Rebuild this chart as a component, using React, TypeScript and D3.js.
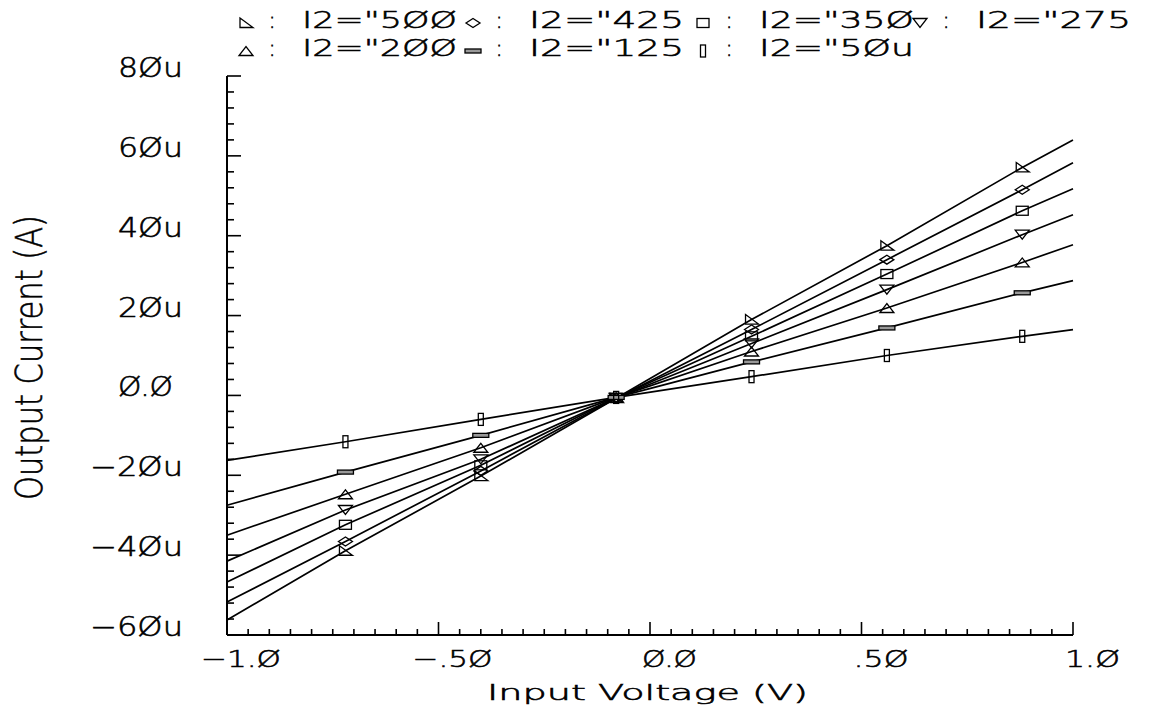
import React from 'react';
import * as d3 from 'd3';

// ---------- data ----------
const vIn = [-1.0, -0.72, -0.4, -0.08, 0.24, 0.56, 0.88, 1.0];
const i500 = [-56.25, -38.9, -20.2, -0.7, 19.0, 37.5, 57.1, 64.0];
const i425 = [-51.75, -36.6, -18.9, -0.7, 16.5, 34.0, 51.5, 58.25];
const i350 = [-46.75, -32.4, -17.5, -0.6, 14.8, 30.4, 46.25, 51.75];
const i275 = [-41.5, -28.7, -16.0, -0.6, 13.0, 26.5, 40.25, 45.25];
const i200 = [-35.0, -24.75, -13.1, -0.5, 11.0, 21.9, 33.3, 37.75];
const i125 = [-27.5, -19.2, -10.0, -0.5, 8.4, 16.9, 25.7, 28.75];
const i50 = [-16.25, -11.6, -6.0, -0.5, 4.7, 10.0, 14.8, 16.5];
const seriesValues = [i500, i425, i350, i275, i200, i125, i50];
const seriesSymbols = ['rtri', 'diamond', 'square', 'dtri', 'utri', 'hbar', 'vbar'];
const legendLabels = ['I2="5ØØ', 'I2="425', 'I2="35Ø', 'I2="275', 'I2="2ØØ', 'I2="125', 'I2="5Øu'];

const yTickValues = [-60, -40, -20, 0, 20, 40, 60, 80];
const yTickLabels = ['−6Øu', '−4Øu', '−2Øu', 'Ø.Ø', '2Øu', '4Øu', '6Øu', '8Øu'];
const xTickValues = [-1, -0.5, 0, 0.5, 1];
const xTickLabels = ['−1.Ø', '−.5Ø', 'Ø.Ø', '.5Ø', '1.Ø'];

const xTitle = 'Input Voltage (V)';
const yTitle = 'Output Current (A)';

// ---------- layout ----------
const W = 1158;
const H = 711;
const x = d3.scaleLinear().domain([-1, 1]).range([227, 1073]);
const y = d3.scaleLinear().domain([-60, 80]).range([635, 76]);

const SANS = "'DejaVu Sans', sans-serif";
const textStyle = {
  fontFamily: SANS,
  fontWeight: 200,
  fill: '#000',
  stroke: '#000',
  strokeWidth: 0.55,
} as any;

function Marker({ kind, cx, cy }: { kind: string; cx: number; cy: number }) {
  const common = { stroke: '#000', strokeWidth: 1.3, fill: 'none' } as any;
  const t = `translate(${cx},${cy})`;
  switch (kind) {
    case 'rtri':
      return <path transform={t} d="M-6,-5 L-6,4.5 L7,4.5 Z" {...common} />;
    case 'diamond':
      return <path transform={t} d="M-7,0 L0,-4.5 L7,0 L0,4.5 Z" {...common} />;
    case 'square':
      return <rect transform={t} x={-6} y={-4.5} width={12} height={9} {...common} />;
    case 'dtri':
      return <path transform={t} d="M-7,-4.5 L7,-4.5 L0,4.5 Z" {...common} />;
    case 'utri':
      return <path transform={t} d="M-7,4.5 L7,4.5 L0,-4.5 Z" {...common} />;
    case 'hbar':
      return <rect transform={t} x={-8} y={-2} width={16} height={4} {...common} fill="#999" />;
    case 'vbar':
      return <rect transform={t} x={-2.5} y={-6} width={5} height={12} {...common} />;
    default:
      return null;
  }
}

export default function App() {
  const line = d3
    .line<number>()
    .x((_, i) => x(vIn[i]))
    .y((d) => y(d));

  const xMinor = d3.range(-1, 1.0001, 0.05);
  const yMinor = d3.range(-60, 80.001, 4);

  const legendCols = [246, 473, 703, 920];
  const legendRows = [23, 51];
  const legendBase = [28, 56];

  return (
    <svg
      width={W}
      height={H}
      style={{ position: 'absolute', left: 0, top: 0, background: '#fff' }}
    >
      <rect x={0} y={0} width={W} height={H} fill="#fff" />

      {/* axes */}
      <line x1={x(-1)} x2={x(-1)} y1={y(80)} y2={y(-60)} stroke="#000" strokeWidth={2} />
      <line x1={x(-1)} x2={x(1)} y1={y(-60)} y2={y(-60)} stroke="#000" strokeWidth={2} />

      {xMinor.map((v, i) => {
        const major = xTickValues.some((t) => Math.abs(t - v) < 1e-6);
        return (
          <line
            key={'xm' + i}
            x1={x(v)}
            x2={x(v)}
            y1={y(-60)}
            y2={y(-60) - (major ? 13 : 6)}
            stroke="#000"
            strokeWidth={1.6}
          />
        );
      })}
      {yMinor.map((v, i) => {
        const major = yTickValues.some((t) => Math.abs(t - v) < 1e-6);
        return (
          <line
            key={'ym' + i}
            x1={x(-1)}
            x2={x(-1) + (major ? 14 : 7)}
            y1={y(v)}
            y2={y(v)}
            stroke="#000"
            strokeWidth={1.6}
          />
        );
      })}

      {/* y tick labels */}
      {yTickValues.map((v, i) => {
        const lab = yTickLabels[i];
        const neg = lab.startsWith('−');
        const len = neg ? 93 : lab.includes('.') ? 55 : 65;
        return (
          <text
            key={'yl' + i}
            x={neg ? 90 : 118}
            y={y(v) + 1}
            {...textStyle}
            fontSize={26}
            textLength={len}
            lengthAdjust="spacingAndGlyphs"
          >
            {lab}
          </text>
        );
      })}

      {/* x tick labels */}
      {xTickValues.map((v, i) => {
        const lab = xTickLabels[i];
        const neg = lab.startsWith('−');
        return (
          <text
            key={'xl' + i}
            x={neg ? x(v) - 26 : x(v) - 8}
            y={667}
            {...textStyle}
            fontSize={23.5}
            textLength={neg ? 80 : 55}
            lengthAdjust="spacingAndGlyphs"
          >
            {lab}
          </text>
        );
      })}

      {/* axis titles */}
      <text
        x={487}
        y={700}
        {...textStyle}
        fontSize={21}
        textLength={321}
        lengthAdjust="spacingAndGlyphs"
      >
        {xTitle}
      </text>
      <text
        transform="translate(42,500) rotate(-90)"
        x={0}
        y={0}
        {...textStyle}
        fontSize={37}
        textLength={285}
        lengthAdjust="spacingAndGlyphs"
      >
        {yTitle}
      </text>

      {/* series lines */}
      {seriesValues.map((vals, s) => (
        <path key={'ln' + s} d={line(vals) || ''} fill="none" stroke="#000" strokeWidth={1.7} />
      ))}

      {/* markers */}
      {seriesValues.map((vals, s) =>
        vals.map((v, i) =>
          i > 0 && i < vals.length - 1 ? (
            <Marker key={'mk' + s + '_' + i} kind={seriesSymbols[s]} cx={x(vIn[i])} cy={y(v)} />
          ) : null
        )
      )}

      {/* legend */}
      {legendLabels.map((lab, k) => {
        const row = k < 4 ? 0 : 1;
        const col = k < 4 ? k : k - 4;
        const mx = legendCols[col];
        return (
          <g key={'lg' + k}>
            <Marker kind={seriesSymbols[k]} cx={mx} cy={legendRows[row]} />
            <text
              x={mx + 26}
              y={legendBase[row]}
              {...textStyle}
              fontSize={23}
              textAnchor="middle"
            >
              :
            </text>
            <text
              x={mx + 56}
              y={legendBase[row]}
              {...textStyle}
              fontSize={23}
              textLength={155}
              lengthAdjust="spacingAndGlyphs"
            >
              {lab}
            </text>
          </g>
        );
      })}
    </svg>
  );
}
